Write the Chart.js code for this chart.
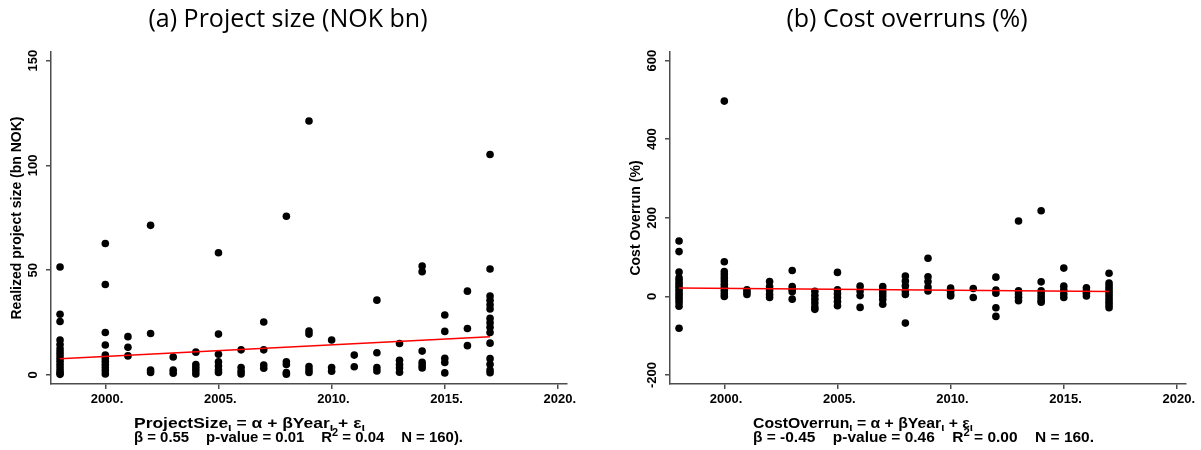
<!DOCTYPE html>
<html>
<head>
<meta charset="utf-8">
<script src="https://cdn.jsdelivr.net/npm/chart.js@4.4.1/dist/chart.umd.min.js"></script>
<style>
  body { margin: 0; background: #fff; }
  #wrap { position: relative; width: 1201px; height: 450px; }
  canvas { position: absolute; top: 0; }
</style>
</head>
<body>
<div id="wrap">
  <canvas id="sizeChart" width="600" height="450" style="left:0"></canvas>
  <canvas id="overrunChart" width="601" height="450" style="left:600px"></canvas>
</div>
<script>
// Years with projects (no 1999 in the data)
const years = [1998, 2000, 2001, 2002, 2003, 2004, 2005, 2006, 2007, 2008,
               2009, 2010, 2011, 2012, 2013, 2014, 2015, 2016, 2017];

// Realized project size (bn NOK), one list per year
const projectSize = [
  [51.5, 29, 25.5, 16.7, 14.5, 12.5, 11, 9.5, 8, 6.5, 5, 3.5, 2, 1, 0.3],
  [62.7, 43.2, 20.3, 14.3, 9.5, 8, 6.5, 5, 3.5, 2, 0.5],
  [18.3, 13.2, 9.1],
  [71.4, 19.8, 2.3, 1.2],
  [8.6, 2.3, 0.8],
  [10.9, 5, 3.5, 2, 0.5],
  [58.3, 19.5, 9.9, 6.3, 4.3, 2.4, 1.2],
  [12, 3.6, 1.8, 0.5],
  [25.3, 12, 4.8, 3.2],
  [75.7, 6.3, 5, 1.2, 0.4],
  [121.2, 21, 19.5, 4, 2.5, 1.2],
  [16.7, 3.6, 1.8],
  [9.5, 3.9],
  [35.7, 10.6, 3.5, 1.9],
  [15, 7, 5, 3.3, 1.3],
  [52, 49.3, 11.4, 6, 4.5, 3.3],
  [28.6, 20.8, 8, 6, 1],
  [40, 22.2, 14],
  [105.2, 50.6, 37.7, 35.6, 33.5, 31.5, 27, 24.9, 22.8, 20.3, 15.2, 7.8, 5.1, 2.4, 1.1]
];

// Cost overrun (%), one list per year
const costOverrun = [
  [141, 114, 62, 47, 40, 33, 26, 19, 12, 5, -2, -9, -16, -25, -81],
  [497, 88, 63, 55, 47, 39, 31, 23, 15, 7, 0],
  [17, 11, 5],
  [38, 25, 15, 5, -3],
  [66, 25, 18, 12, -7],
  [13, 3, -7, -17, -27, -33],
  [61, 17, 7, -3, -13, -24],
  [26, 14, 2, -28],
  [25, 17, 9, 1, -8, -20],
  [52, 39, 27, 14, 5, -68],
  [97, 50, 38, 24, 14],
  [21, 13, 5, 1],
  [20, -3],
  [49, 16, 8, -29, -51],
  [192, 14, 6, -2, -11],
  [218, 37, 14, 6, -2, -10, -15],
  [72, 26, 16, 6, -3],
  [22, 14, 8, 1],
  [59, 34, 27, 20, 13, 6, -1, -8, -15, -22, -29]
];

// Fitted regression lines (start and end year)
const fitYears = [1998, 2017];
const sizeFit = [7.7, 18.2];
const overrunFit = [21.2, 12.6];

// Tick labels
const xTicks = [2000, 2005, 2010, 2015, 2020];
const sizeTicks = [0, 50, 100, 150];
const overrunTicks = [-200, 0, 200, 400, 600];

const AXIS = '#4d4d4d';
const FONT = '"Liberation Sans", Arial, sans-serif';
const TICK_FONT = 'bold 13px ' + FONT;

function points(values) {
  const out = [];
  years.forEach((yr, i) => values[i].forEach(v => out.push({ x: yr, y: v })));
  return out;
}

// draws a line of mixed text (normal / sub / sup / gap) squeezed to a width
function richText(ctx, x, y, parts, width) {
  const fontFor = k => (k === 'sub' || k === 'sup') ? 'bold 11px ' + FONT : 'bold 15px ' + FONT;
  let natural = 0;
  parts.forEach(([txt, k]) => {
    if (k === 'gap') { natural += txt; return; }
    ctx.font = fontFor(k);
    natural += ctx.measureText(txt).width;
  });
  ctx.save();
  ctx.translate(x, y);
  ctx.scale(width / natural, 1);
  let cx = 0;
  parts.forEach(([txt, k]) => {
    if (k === 'gap') { cx += txt; return; }
    ctx.font = fontFor(k);
    const dy = k === 'sub' ? 3 : k === 'sup' ? -6 : 0;
    ctx.fillText(txt, cx, dy);
    cx += ctx.measureText(txt).width;
  });
  ctx.restore();
}

const textPlugin = {
  id: 'textPlugin',
  afterDraw(chart, args, o) {
    const ctx = chart.ctx;
    const area = chart.chartArea;
    const xs = chart.scales.x, ys = chart.scales.y;
    ctx.save();
    ctx.fillStyle = '#000';

    // title
    ctx.font = '25px "Open Sans", "Noto Sans", sans-serif';
    ctx.textAlign = 'center';
    ctx.textBaseline = 'middle';
    ctx.fillText(o.title, (area.left + area.right) / 2 - 21, 20);

    // x tick labels
    ctx.font = TICK_FONT;
    xTicks.forEach(t => {
      const px = xs.getPixelForValue(t);
      ctx.textAlign = 'center';
      ctx.fillText(String(t), px, 399);
      ctx.textAlign = 'left';
      ctx.fillText('.', px + ctx.measureText(String(t)).width / 2, 399);
    });

    // y tick labels, rotated
    o.yTicks.forEach(t => {
      ctx.save();
      ctx.translate(area.left - 18, ys.getPixelForValue(t));
      ctx.rotate(-Math.PI / 2);
      ctx.textAlign = 'center';
      ctx.fillText(String(t), 0, 0);
      ctx.restore();
    });
    // y title
    ctx.save();
    ctx.font = 'bold 14px ' + FONT;
    ctx.translate(area.left - 34, (area.top + area.bottom) / 2);
    ctx.rotate(-Math.PI / 2);
    ctx.textAlign = 'center';
    ctx.fillText(o.yTitle, 0, 0);
    ctx.restore();

    // regression note
    ctx.textAlign = 'left';
    ctx.textBaseline = 'alphabetic';
    richText(ctx, area.left + 83, 428, o.line1, o.w1);
    richText(ctx, area.left + 83, 442, o.line2, o.w2);
    ctx.restore();
  }
};

function makeChart(id, values, fit, yMin, yMax, yTicks, axisLeft, padRight, labels) {
  new Chart(document.getElementById(id), {
    type: 'scatter',
    data: {
      datasets: [
        {
          type: 'line',
          data: fitYears.map((yr, i) => ({ x: yr, y: fit[i] })),
          borderColor: '#ff0000',
          borderWidth: 1.5,
          pointRadius: 0,
          order: 0
        },
        {
          data: points(values),
          backgroundColor: '#000',
          pointRadius: 3.8,
          borderWidth: 0,
          order: 1
        }
      ]
    },
    options: {
      responsive: false,
      animation: false,
      layout: { padding: { top: 52, right: padRight, left: 0, bottom: 0 } },
      scales: {
        x: {
          type: 'linear',
          min: 1997.6,
          max: 2020.4,
          afterBuildTicks: s => { s.ticks = xTicks.map(v => ({ value: v })); },
          afterFit: s => { s.height = 66; },
          ticks: { display: false },
          grid: { drawOnChartArea: false, drawTicks: true, tickLength: 5, color: AXIS, lineWidth: 1.5 },
          border: { display: true, color: AXIS, width: 1.5 }
        },
        y: {
          min: yMin,
          max: yMax,
          afterBuildTicks: s => { s.ticks = yTicks.map(v => ({ value: v })); },
          afterFit: s => { s.width = axisLeft; },
          ticks: { display: false },
          grid: { drawOnChartArea: false, drawTicks: true, tickLength: 5, color: AXIS, lineWidth: 1.5 },
          border: { display: true, color: AXIS, width: 1.5 }
        }
      },
      plugins: {
        legend: { display: false },
        tooltip: { enabled: false },
        textPlugin: Object.assign({ yTicks: yTicks }, labels)
      }
    },
    plugins: [textPlugin]
  });
}

makeChart('sizeChart', projectSize, sizeFit, -4.3, 154.1, sizeTicks, 51, 33, {
  title: '(a) Project size (NOK bn)',
  yTitle: 'Realized project size (bn NOK)',
  line1: [['ProjectSize', 'n'], ['ι', 'sub'], [' = α + βYear', 'n'], ['ι', 'sub'], [' + ε', 'n'], ['ι', 'sub']],
  w1: 231,
  line2: [['β = 0.55', 'n'], [17, 'gap'], ['p-value = 0.01', 'n'], [17, 'gap'], ['R', 'n'], ['2', 'sup'],
          [' = 0.04', 'n'], [17, 'gap'], ['N = 160).', 'n']],
  w2: 329
});

makeChart('overrunChart', costOverrun, overrunFit, -223, 622, overrunTicks, 70, 15, {
  title: '(b) Cost overruns (%)',
  yTitle: 'Cost Overrun (%)',
  line1: [['CostOverrun', 'n'], ['ι', 'sub'], [' = α + βYear', 'n'], ['ι', 'sub'], [' + ε', 'n'], ['ι', 'sub']],
  w1: 220,
  line2: [['β = -0.45', 'n'], [17, 'gap'], ['p-value = 0.46', 'n'], [17, 'gap'], ['R', 'n'], ['2', 'sup'],
          [' = 0.00', 'n'], [17, 'gap'], ['N = 160.', 'n']],
  w2: 341
});
</script>
</body>
</html>
